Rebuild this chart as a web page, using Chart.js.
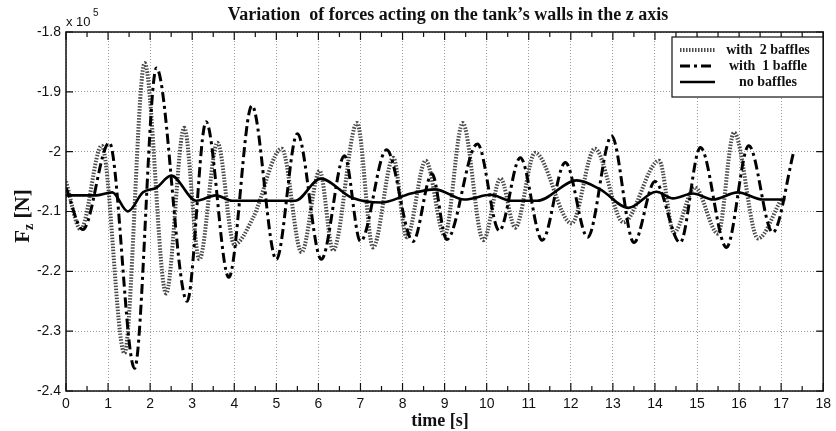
<!DOCTYPE html>
<html>
<head>
<meta charset="utf-8">
<script src="https://cdn.jsdelivr.net/npm/chart.js@4.4.0/dist/chart.umd.min.js"></script>
<style>
  html, body { margin: 0; padding: 0; background: #fff; }
</style>
</head>
<body>
<canvas id="forceChart" width="836" height="431"></canvas>
<script>
// values in units of 10^5 N, time in s
const twoBafflesTime = [0, 0.35, 0.85, 1.39, 1.87, 2.38, 2.81, 3.17, 3.6, 4.0, 4.45, 5.13, 5.6, 6.03, 6.35, 6.92, 7.3, 7.78, 8.1, 8.55, 9.0, 9.43, 9.92, 10.33, 10.68, 11.15, 12.02, 12.57, 13.25, 14.1, 14.45, 14.95, 15.5, 15.88, 16.45, 17.0];
const twoBafflesForce = [-2.05, -2.13, -1.99, -2.337, -1.852, -2.237, -1.96, -2.18, -1.985, -2.155, -2.11, -1.995, -2.168, -2.032, -2.165, -1.952, -2.16, -2.01, -2.143, -2.015, -2.14, -1.952, -2.148, -2.045, -2.127, -2.002, -2.12, -1.995, -2.118, -2.015, -2.135, -2.06, -2.137, -1.968, -2.145, -2.08];

const oneBaffleTime = [0, 0.4, 1.03, 1.63, 2.15, 2.88, 3.33, 3.87, 4.42, 5.0, 5.5, 6.07, 6.62, 7.0, 7.62, 8.25, 8.7, 9.05, 9.78, 10.3, 10.8, 11.32, 11.87, 12.4, 12.97, 13.5, 14.0, 14.6, 15.08, 15.7, 16.23, 16.8, 17.3];
const oneBaffleForce = [-2.06, -2.13, -1.985, -2.362, -1.86, -2.25, -1.95, -2.21, -1.923, -2.18, -1.97, -2.18, -2.007, -2.15, -1.997, -2.15, -2.037, -2.147, -1.987, -2.132, -2.01, -2.148, -2.018, -2.143, -1.974, -2.152, -2.05, -2.152, -1.993, -2.16, -1.99, -2.135, -2.0];

const noBafflesTime = [0, 0.73, 1.1, 1.47, 1.83, 2.15, 2.5, 3.1, 3.56, 3.95, 5.45, 6.05, 6.8, 7.5, 8.2, 8.77, 9.47, 10.1, 10.57, 11.2, 12.14, 12.7, 13.37, 14.03, 14.43, 14.9, 15.38, 15.97, 16.56, 17.1];
const noBafflesForce = [-2.073, -2.073, -2.068, -2.10, -2.068, -2.06, -2.04, -2.082, -2.073, -2.082, -2.082, -2.045, -2.077, -2.085, -2.07, -2.063, -2.08, -2.072, -2.082, -2.082, -2.048, -2.063, -2.094, -2.067, -2.078, -2.07, -2.08, -2.068, -2.08, -2.08];

const seriesLabels = ['with  2 baffles', 'with  1 baffle', 'no baffles'];
const xTickValues = [0, 1, 2, 3, 4, 5, 6, 7, 8, 9, 10, 11, 12, 13, 14, 15, 16, 17, 18];

const toPoints = (xs, ys) => xs.map((t, i) => ({ x: t, y: ys[i] }));

const serif = '"Liberation Serif", "Times New Roman", serif';
const sans = '"Liberation Sans", Arial, sans-serif';

// frame, inside ticks, titles and legend drawn on top, matlab style
const decorations = {
  id: 'decorations',
  afterDraw(chart) {
    const { ctx, chartArea: a, scales: { x, y } } = chart;
    ctx.save();

    ctx.strokeStyle = '#111';
    ctx.lineWidth = 1.5;
    ctx.strokeRect(a.left, a.top, a.right - a.left, a.bottom - a.top);

    ctx.lineWidth = 1.2;
    ctx.beginPath();
    for (let v = 0; v <= 18; v += 0.5) {
      const px = x.getPixelForValue(v);
      const len = v % 1 === 0 ? 8 : 5;
      ctx.moveTo(px, a.bottom); ctx.lineTo(px, a.bottom - len);
      ctx.moveTo(px, a.top); ctx.lineTo(px, a.top + len);
    }
    y.ticks.forEach(t => {
      const py = y.getPixelForValue(t.value);
      ctx.moveTo(a.left, py); ctx.lineTo(a.left + 7, py);
      ctx.moveTo(a.right, py); ctx.lineTo(a.right - 7, py);
    });
    ctx.stroke();

    // title
    ctx.fillStyle = '#111';
    ctx.font = 'bold 18px ' + serif;
    ctx.textAlign = 'center';
    ctx.textBaseline = 'middle';
    ctx.fillText('Variation  of forces acting on the tank\u2019s walls in the z axis', 448, 15);

    // x axis title
    ctx.font = 'bold 18px ' + serif;
    ctx.fillText('time [s]', 440, 421);

    // exponent
    ctx.font = '13px ' + sans;
    ctx.textAlign = 'left';
    ctx.fillText('x 10', 66, 22);
    ctx.font = '10px ' + sans;
    ctx.fillText('5', 93, 13);

    // y axis title
    ctx.save();
    ctx.translate(24, 216);
    ctx.rotate(-Math.PI / 2);
    ctx.textAlign = 'left';
    ctx.font = 'bold 21px ' + serif;
    const partF = 'F';
    const wF = ctx.measureText(partF).width;
    ctx.font = 'bold 14px ' + serif;
    const wz = ctx.measureText('z').width;
    ctx.font = 'bold 21px ' + serif;
    const rest = ' [N]';
    const wr = ctx.measureText(rest).width;
    const start = -(wF + wz + wr) / 2;
    ctx.fillText(partF, start, 0);
    ctx.font = 'bold 14px ' + serif;
    ctx.fillText('z', start + wF, 5);
    ctx.font = 'bold 21px ' + serif;
    ctx.fillText(rest, start + wF + wz, 0);
    ctx.restore();

    // legend
    const lx = 672, ly = 37, lw = 151, lh = 60;
    ctx.fillStyle = '#fff';
    ctx.fillRect(lx, ly, lw, lh);
    ctx.strokeStyle = '#111';
    ctx.lineWidth = 1.2;
    ctx.setLineDash([]);
    ctx.strokeRect(lx, ly, lw, lh);
    const rows = [50, 66, 82];
    chart.data.datasets.forEach(ds => {
      const r = rows[seriesLabels.indexOf(ds.label)];
      ctx.save();
      ctx.strokeStyle = ds.borderColor;
      ctx.lineWidth = ds.borderWidth;
      ctx.setLineDash(ds.borderDash || []);
      ctx.beginPath();
      ctx.moveTo(680, r);
      ctx.lineTo(715, r);
      ctx.stroke();
      ctx.restore();
      ctx.fillStyle = '#111';
      ctx.font = 'bold 14px ' + serif;
      ctx.textAlign = 'center';
      ctx.fillText(ds.label, 768, r);
    });

    ctx.restore();
  }
};

const chart = new Chart(document.getElementById('forceChart').getContext('2d'), {
  type: 'line',
  data: {
    datasets: [
      {
        label: seriesLabels[2],
        data: toPoints(noBafflesTime, noBafflesForce),
        borderColor: '#000',
        borderWidth: 2.6,
        order: 0
      },
      {
        label: seriesLabels[1],
        data: toPoints(oneBaffleTime, oneBaffleForce),
        borderColor: '#000',
        borderWidth: 3,
        borderDash: [10, 4, 3, 4],
        order: 1
      },
      {
        label: seriesLabels[0],
        data: toPoints(twoBafflesTime, twoBafflesForce),
        borderColor: '#4a4a4a',
        borderWidth: 4,
        borderDash: [1.5, 1.5],
        order: 2
      }
    ]
  },
  options: {
    responsive: false,
    animation: false,
    parsing: false,
    elements: {
      point: { radius: 0 },
      line: { cubicInterpolationMode: 'monotone', fill: false }
    },
    layout: { padding: { top: 32, right: 8, left: 0, bottom: 0 } },
    plugins: {
      legend: { display: false },
      title: { display: false },
      tooltip: { enabled: false }
    },
    scales: {
      x: {
        type: 'linear',
        min: 0,
        max: 18,
        afterBuildTicks: scale => { scale.ticks = xTickValues.map(v => ({ value: v })); },
        afterFit: scale => { scale.height = 40; },
        grid: { color: '#9a9a9a', lineWidth: 1, drawTicks: false },
        border: { display: false, dash: [1, 2] },
        ticks: {
          padding: 5,
          color: '#111',
          font: { family: sans, size: 14 },
          maxRotation: 0,
          callback: v => String(v)
        }
      },
      y: {
        type: 'linear',
        min: -2.4,
        max: -1.8,
        afterFit: scale => { scale.width = 66; },
        grid: { color: '#9a9a9a', lineWidth: 1, drawTicks: false },
        border: { display: false, dash: [1, 2] },
        ticks: {
          stepSize: 0.1,
          padding: 5,
          color: '#111',
          font: { family: sans, size: 14 },
          callback: v => String(Number(v.toFixed(1)))
        }
      }
    }
  },
  plugins: [decorations]
});
</script>
</body>
</html>
